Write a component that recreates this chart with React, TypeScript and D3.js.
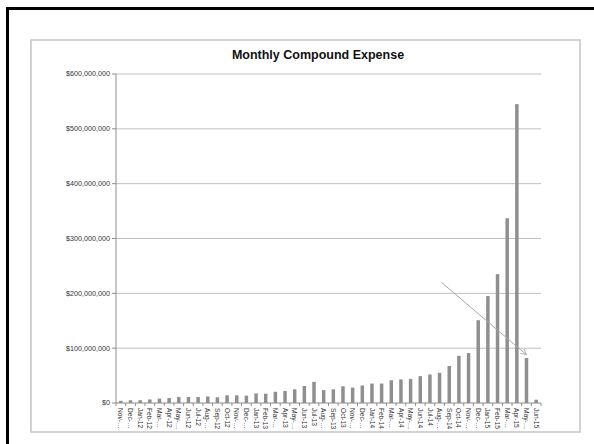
import React from "react";
import * as d3 from "d3";

// Monthly compound expense, millions of dollars
const months = [
  "Nov-11", "Dec-11", "Jan-12", "Feb-12", "Mar-12", "Apr-12", "May-12", "Jun-12",
  "Jul-12", "Aug-12", "Sep-12", "Oct-12", "Nov-12", "Dec-12", "Jan-13", "Feb-13",
  "Mar-13", "Apr-13", "May-13", "Jun-13", "Jul-13", "Aug-13", "Sep-13", "Oct-13",
  "Nov-13", "Dec-13", "Jan-14", "Feb-14", "Mar-14", "Apr-14", "May-14", "Jun-14",
  "Jul-14", "Aug-14", "Sep-14", "Oct-14", "Nov-14", "Dec-14", "Jan-15", "Feb-15",
  "Mar-15", "Apr-15", "May-15", "Jun-15",
];
// labels as Excel printed them (long ones truncated)
const tickLabels = [
  "Nov-…", "Dec-…", "Jan-12", "Feb-12", "Mar-…", "Apr-12", "May-…", "Jun-12",
  "Jul-12", "Aug-…", "Sep-12", "Oct-12", "Nov-…", "Dec-…", "Jan-13", "Feb-13",
  "Mar-…", "Apr-13", "May-…", "Jun-13", "Jul-13", "Aug-…", "Sep-13", "Oct-13",
  "Nov-…", "Dec-…", "Jan-14", "Feb-14", "Mar-…", "Apr-14", "May-…", "Jun-14",
  "Jul-14", "Aug-…", "Sep-14", "Oct-14", "Nov-…", "Dec-…", "Jan-15", "Feb-15",
  "Mar-…", "Apr-15", "May-…", "Jun-15",
];
const expenseMillions = [
  4, 5, 5, 6.5, 8, 9, 11, 11,
  11, 12, 10.5, 14, 14, 13.5, 17.5, 17,
  20.5, 22, 25, 31, 38.5, 23.5, 25, 30.5,
  28, 32, 35.5, 35.5, 41.5, 43, 44, 49,
  52, 55, 67.5, 86, 91, 151, 195, 235,
  337, 545, 82, 6,
];
const yTicks = [0, 100, 200, 300, 400, 500, 600];
// hand-drawn arrow annotation (category position, millions)
const arrowFrom = { index: 33.7, value: 220 };
const arrowTo = { index: 42.5, value: 88 };

const W = 594;
const H = 444;
const plot = { left: 116, right: 541, top: 74, bottom: 403 };

export default function App() {
  const x = d3.scaleBand<string>().domain(months).range([plot.left, plot.right]).padding(0);
  const xPos = d3.scaleLinear().domain([0, months.length]).range([plot.left, plot.right]);
  const y = d3.scaleLinear().domain([0, 600]).range([plot.bottom, plot.top]);
  const barW = x.bandwidth() * 0.36;
  const fmt = (v: number) => "$" + d3.format(",")(v * 1e6);

  return (
    <svg width={W} height={H} style={{ position: "absolute", left: 0, top: 0, background: "#fff" }}
      fontFamily="'Liberation Sans', Arial, sans-serif">
      <defs>
        <marker id="arr" viewBox="0 0 10 10" refX="9" refY="5" markerWidth="7" markerHeight="7" orient="auto">
          <path d="M1,1 L9,5 L1,9" fill="none" stroke="#a8a8a8" strokeWidth="1.2" />
        </marker>
      </defs>
      {/* outer black frame */}
      <rect x={7.5} y={8.5} width={W + 20} height={H + 20} fill="none" stroke="#000" strokeWidth={3} />
      {/* chart area */}
      <rect x={31} y={40} width={549} height={392} fill="#fff" stroke="#c4c4c4" strokeWidth={1.5} />
      <text x={318} y={59} textAnchor="middle" fontSize={12.5} fontWeight="bold" fill="#111">
        Monthly Compound Expense
      </text>
      {/* gridlines + y labels */}
      {yTicks.map((t) => (
        <g key={t}>
          {t > 0 && <line x1={plot.left} x2={plot.right} y1={y(t)} y2={y(t)} stroke="#c0c0c0" strokeWidth={1} />}
          <line x1={plot.left - 4} x2={plot.left} y1={y(t)} y2={y(t)} stroke="#8c8c8c" />
          <text x={plot.left - 6} y={y(t)} dy="0.33em" textAnchor="end" fontSize={7.2} fill="#333">
            {fmt(t)}
          </text>
        </g>
      ))}
      {/* bars */}
      {months.map((m, i) => (
        <rect key={m} x={x(m)! + (x.bandwidth() - barW) / 2} y={y(expenseMillions[i])}
          width={barW} height={plot.bottom - y(expenseMillions[i])} fill="#8f8f8f" />
      ))}
      {/* axes */}
      <line x1={plot.left} x2={plot.left} y1={plot.top} y2={plot.bottom} stroke="#8c8c8c" />
      <line x1={plot.left} x2={plot.right} y1={plot.bottom} y2={plot.bottom} stroke="#8c8c8c" />
      {d3.range(months.length + 1).map((i) => (
        <line key={i} x1={xPos(i)} x2={xPos(i)} y1={plot.bottom} y2={plot.bottom + 3} stroke="#8c8c8c" />
      ))}
      {months.map((m, i) => {
        const cx = x(m)! + x.bandwidth() / 2;
        return (
          <text key={m} transform={`translate(${cx - 2.4},${plot.bottom + 5}) rotate(90)`}
            fontSize={6.6} fill="#333">
            {tickLabels[i]}
          </text>
        );
      })}
      {/* arrow annotation */}
      <line x1={xPos(arrowFrom.index)} y1={y(arrowFrom.value)} x2={xPos(arrowTo.index)} y2={y(arrowTo.value)}
        stroke="#a8a8a8" strokeWidth={1} markerEnd="url(#arr)" />
    </svg>
  );
}
